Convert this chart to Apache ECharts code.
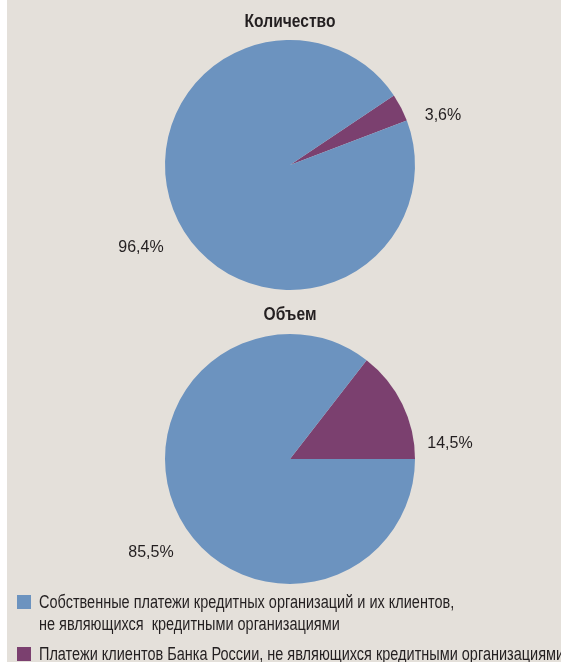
<!DOCTYPE html>
<html>
<head>
<meta charset="utf-8">
<script src="https://cdn.jsdelivr.net/npm/echarts@6/dist/echarts.min.js"></script>
<style>
  html, body { margin: 0; padding: 0; background: #ffffff; }
  #chart { width: 561px; height: 662px; }
</style>
</head>
<body>
<div id="chart"></div>
<script>
// Structure of payments: count and volume
const chartTitles = ['Количество', 'Объем'];
const categories = [
  'Платежи клиентов Банка России, не являющихся кредитными организациями',
  'Собственные платежи кредитных организаций и их клиентов,\nне являющихся  кредитными организациями'
];
const countShares = [3.6, 96.4];
const volumeShares = [14.5, 85.5];
const colors = ['#7b406f', '#6c93bf'];

const FONT = '"Liberation Sans", Arial, sans-serif';
const TEXT = '#231f20';
// horizontal squeeze that gives a condensed face for titles and legend
const NARROW_TITLE = 0.82;
const NARROW_LEGEND = 0.805;

// pie geometry and label anchors (offsets from the pie centre)
const pies = [
  { center: [290, 165], startAngle: 33.8, titleY: 22,
    labelOffsets: [[153, -50], [-149, 82]] },
  { center: [290, 459], startAngle: 52.2, titleY: 315,
    labelOffsets: [[160, -16], [-139, 93]] }
];
const seriesValues = [countShares, volumeShares];

const fmt = v => v.toFixed(1).replace('.', ',') + '%';

const chart = echarts.init(document.getElementById('chart'), null, { renderer: 'canvas' });

const series = pies.map((p, si) => ({
  type: 'pie',
  name: chartTitles[si],
  center: p.center,
  radius: 125,
  startAngle: p.startAngle,
  clockwise: true,
  silent: true,
  animation: false,
  data: seriesValues[si].map((v, i) => ({
    name: categories[i],
    value: v,
    itemStyle: { color: colors[i] }
  })),
  label: {
    show: true,
    position: 'outside',
    formatter: params => fmt(params.value),
    fontFamily: FONT,
    fontSize: 16,
    color: TEXT
  },
  labelLine: { show: false },
  labelLayout: params => {
    const off = p.labelOffsets[params.dataIndex];
    return {
      x: p.center[0] + off[0],
      y: p.center[1] + off[1] + 1,
      align: 'center',
      verticalAlign: 'middle'
    };
  }
}));

const graphic = [
  { type: 'rect', x: 0, y: 0, shape: { width: 7, height: 662 }, style: { fill: '#ffffff' }, silent: true }
];

// chart titles
pies.forEach((p, i) => {
  graphic.push({
    type: 'text',
    x: p.center[0], y: p.titleY,
    scaleX: NARROW_TITLE,
    style: {
      text: chartTitles[i],
      font: 'bold 19px ' + FONT,
      fill: TEXT,
      align: 'center',
      verticalAlign: 'middle'
    },
    silent: true
  });
});

// legend
const legendTop = [595, 647];
[1, 0].forEach((ci, k) => {
  graphic.push({
    type: 'rect',
    x: 17, y: legendTop[k],
    shape: { width: 14, height: 14 },
    style: { fill: colors[ci] },
    silent: true
  });
  graphic.push({
    type: 'text',
    x: 39, y: legendTop[k] - 3,
    scaleX: NARROW_LEGEND,
    style: {
      text: categories[ci],
      font: '18px ' + FONT,
      fill: TEXT,
      lineHeight: 22,
      align: 'left',
      verticalAlign: 'top'
    },
    silent: true
  });
});

chart.setOption({
  backgroundColor: '#e4e0da',
  animation: false,
  series: series,
  graphic: graphic
});
</script>
</body>
</html>
